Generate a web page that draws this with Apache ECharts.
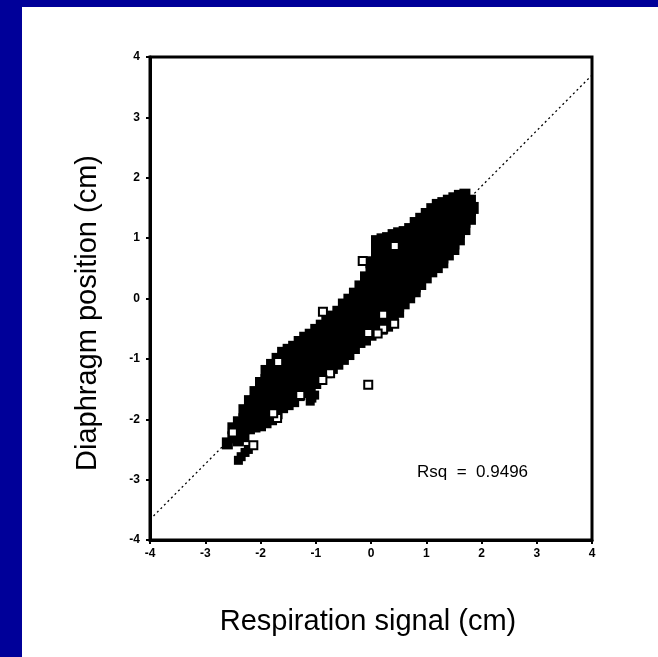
<!DOCTYPE html>
<html>
<head>
<meta charset="utf-8">
<script src="https://cdn.jsdelivr.net/npm/echarts@6/dist/echarts.min.js"></script>
<style>
  html, body { margin: 0; padding: 0; background: #fff; }
  #chart { width: 658px; height: 657px; }
</style>
</head>
<body>
<div id="chart"></div>
<script>
// axis range and ticks
var axisMin = -4;
var axisMax = 4;
var tickStep = 1;

// regression line end points
var fitLine = [[-4, -3.66], [4, 3.7]];

// dense body of the scatter (open squares that overlap into a solid band)
var blobPoints = [
  [-2.6, -2.4],
  [-2.5, -2.15], [-2.5, -2.3],
  [-2.4, -2.05], [-2.4, -2.2], [-2.4, -2.35],
  [-2.3, -1.85], [-2.3, -2.0], [-2.3, -2.15], [-2.3, -2.28],
  [-2.2, -1.7], [-2.2, -1.85], [-2.2, -2.0], [-2.2, -2.15],
  [-2.1, -1.55], [-2.1, -1.7], [-2.1, -1.85], [-2.1, -2.0], [-2.1, -2.12],
  [-2.0, -1.4], [-2.0, -1.55], [-2.0, -1.7], [-2.0, -1.85], [-2.0, -2.0], [-2.0, -2.1],
  [-1.9, -1.2], [-1.9, -1.35], [-1.9, -1.5], [-1.9, -1.65], [-1.9, -1.8], [-1.9, -1.95], [-1.9, -2.05],
  [-1.8, -1.1], [-1.8, -1.25], [-1.8, -1.4], [-1.8, -1.55], [-1.8, -1.7], [-1.8, -1.85], [-1.8, -2.0],
  [-1.7, -1.0], [-1.7, -1.15], [-1.7, -1.3], [-1.7, -1.45], [-1.7, -1.6], [-1.7, -1.75], [-1.7, -1.9],
  [-1.6, -0.9], [-1.6, -1.05], [-1.6, -1.2], [-1.6, -1.35], [-1.6, -1.5], [-1.6, -1.65], [-1.6, -1.8],
  [-1.5, -0.85], [-1.5, -1.0], [-1.5, -1.15], [-1.5, -1.3], [-1.5, -1.45], [-1.5, -1.6], [-1.5, -1.75],
  [-1.4, -0.8], [-1.4, -0.95], [-1.4, -1.1], [-1.4, -1.25], [-1.4, -1.4], [-1.4, -1.55], [-1.4, -1.7],
  [-1.3, -0.72], [-1.3, -0.87], [-1.3, -1.0], [-1.3, -1.15], [-1.3, -1.3], [-1.3, -1.45], [-1.3, -1.6],
  [-1.2, -0.65], [-1.2, -0.8], [-1.2, -0.95], [-1.2, -1.1], [-1.2, -1.25], [-1.2, -1.4], [-1.2, -1.55],
  [-1.1, -0.6], [-1.1, -0.75], [-1.1, -0.9], [-1.1, -1.05], [-1.1, -1.2], [-1.1, -1.35], [-1.1, -1.5],
  [-1.0, -0.52], [-1.0, -0.67], [-1.0, -0.82], [-1.0, -0.97], [-1.0, -1.12], [-1.0, -1.27], [-1.0, -1.4],
  [-0.9, -0.45], [-0.9, -0.6], [-0.9, -0.75], [-0.9, -0.9], [-0.9, -1.05], [-0.9, -1.2], [-0.9, -1.3],
  [-0.8, -0.38], [-0.8, -0.53], [-0.8, -0.68], [-0.8, -0.83], [-0.8, -0.98], [-0.8, -1.13], [-0.8, -1.22],
  [-0.7, -0.3], [-0.7, -0.45], [-0.7, -0.6], [-0.7, -0.75], [-0.7, -0.9], [-0.7, -1.05], [-0.7, -1.15],
  [-0.6, -0.22], [-0.6, -0.37], [-0.6, -0.52], [-0.6, -0.67], [-0.6, -0.82], [-0.6, -0.97], [-0.6, -1.08],
  [-0.5, -0.1], [-0.5, -0.25], [-0.5, -0.4], [-0.5, -0.55], [-0.5, -0.7], [-0.5, -0.85], [-0.5, -1.0],
  [-0.4, -0.02], [-0.4, -0.17], [-0.4, -0.32], [-0.4, -0.47], [-0.4, -0.62], [-0.4, -0.77], [-0.4, -0.92],
  [-0.3, 0.08], [-0.3, -0.07], [-0.3, -0.22], [-0.3, -0.37], [-0.3, -0.52], [-0.3, -0.67], [-0.3, -0.82],
  [-0.2, 0.2], [-0.2, 0.05], [-0.2, -0.1], [-0.2, -0.25], [-0.2, -0.4], [-0.2, -0.55], [-0.2, -0.72],
  [-0.1, 0.35], [-0.1, 0.2], [-0.1, 0.05], [-0.1, -0.1], [-0.1, -0.25], [-0.1, -0.4], [-0.1, -0.55], [-0.1, -0.68],
  [0.0, 0.6], [0.0, 0.45], [0.0, 0.3], [0.0, 0.15], [0.0, 0.0], [0.0, -0.15], [0.0, -0.3], [0.0, -0.45], [0.0, -0.6],
  [0.1, 0.95], [0.1, 0.8], [0.1, 0.65], [0.1, 0.5], [0.1, 0.35], [0.1, 0.2], [0.1, 0.05], [0.1, -0.1], [0.1, -0.25], [0.1, -0.4], [0.1, -0.55],
  [0.2, 0.98], [0.2, 0.83], [0.2, 0.68], [0.2, 0.53], [0.2, 0.38], [0.2, 0.23], [0.2, 0.08], [0.2, -0.07], [0.2, -0.22], [0.2, -0.37], [0.2, -0.5],
  [0.3, 1.0], [0.3, 0.85], [0.3, 0.7], [0.3, 0.55], [0.3, 0.4], [0.3, 0.25], [0.3, 0.1], [0.3, -0.05], [0.3, -0.2], [0.3, -0.35], [0.3, -0.45],
  [0.4, 1.05], [0.4, 0.9], [0.4, 0.75], [0.4, 0.6], [0.4, 0.45], [0.4, 0.3], [0.4, 0.15], [0.4, 0.0], [0.4, -0.15], [0.4, -0.3], [0.4, -0.38],
  [0.5, 1.08], [0.5, 0.93], [0.5, 0.78], [0.5, 0.63], [0.5, 0.48], [0.5, 0.33], [0.5, 0.18], [0.5, 0.03], [0.5, -0.12], [0.5, -0.22],
  [0.6, 1.1], [0.6, 0.95], [0.6, 0.8], [0.6, 0.65], [0.6, 0.5], [0.6, 0.35], [0.6, 0.2], [0.6, 0.05], [0.6, -0.08],
  [0.7, 1.15], [0.7, 1.0], [0.7, 0.85], [0.7, 0.7], [0.7, 0.55], [0.7, 0.4], [0.7, 0.25], [0.7, 0.1], [0.7, 0.02],
  [0.8, 1.25], [0.8, 1.1], [0.8, 0.95], [0.8, 0.8], [0.8, 0.65], [0.8, 0.5], [0.8, 0.35], [0.8, 0.2], [0.8, 0.12],
  [0.9, 1.32], [0.9, 1.17], [0.9, 1.02], [0.9, 0.87], [0.9, 0.72], [0.9, 0.57], [0.9, 0.42], [0.9, 0.24],
  [1.0, 1.4], [1.0, 1.25], [1.0, 1.1], [1.0, 0.95], [1.0, 0.8], [1.0, 0.65], [1.0, 0.5], [1.0, 0.35],
  [1.1, 1.48], [1.1, 1.33], [1.1, 1.18], [1.1, 1.03], [1.1, 0.88], [1.1, 0.73], [1.1, 0.58], [1.1, 0.45],
  [1.2, 1.55], [1.2, 1.4], [1.2, 1.25], [1.2, 1.1], [1.2, 0.95], [1.2, 0.8], [1.2, 0.65], [1.2, 0.52],
  [1.3, 1.58], [1.3, 1.43], [1.3, 1.28], [1.3, 1.13], [1.3, 0.98], [1.3, 0.83], [1.3, 0.68], [1.3, 0.6],
  [1.4, 1.62], [1.4, 1.47], [1.4, 1.32], [1.4, 1.17], [1.4, 1.02], [1.4, 0.87], [1.4, 0.73],
  [1.5, 1.66], [1.5, 1.51], [1.5, 1.36], [1.5, 1.21], [1.5, 1.06], [1.5, 0.91], [1.5, 0.82],
  [1.6, 1.7], [1.6, 1.55], [1.6, 1.4], [1.6, 1.25], [1.6, 1.1], [1.6, 0.98],
  [1.7, 1.72], [1.7, 1.57], [1.7, 1.42], [1.7, 1.27], [1.7, 1.15],
  [1.8, 1.62], [1.8, 1.47], [1.8, 1.32],
  [1.85, 1.5]
];

// small filled clumps apart from the band
var clumpPoints = [
  [-2.4, -2.68], [-2.35, -2.62], [-2.28, -2.55], [-2.22, -2.5],
  [-1.1, -1.7], [-1.07, -1.65], [-1.02, -1.6]
];

// single open squares visible at the edges of the band
var openPoints = [
  [0.43, 0.87], [-0.15, 0.62], [-0.87, -0.22], [-0.05, -1.43],
  [0.22, -0.5], [0.42, -0.42], [0.12, -0.58], [0.22, -0.27],
  [-0.74, -1.24], [-0.88, -1.35], [-1.28, -1.6], [-1.7, -1.98],
  [-1.77, -1.9], [-2.13, -2.43], [-2.5, -2.22], [-1.68, -1.05],
  [-0.05, -0.57]
];

var chart = echarts.init(document.getElementById('chart'));

var fontFamily = '"Liberation Sans", Arial, sans-serif';

chart.setOption({
  animation: false,
  backgroundColor: '#fff',
  grid: {
    left: 150,
    right: 66,
    top: 57,
    bottom: 117,
    show: true,
    borderColor: '#000',
    borderWidth: 3
  },
  xAxis: {
    type: 'value',
    min: axisMin,
    max: axisMax,
    interval: tickStep,
    splitLine: { show: false },
    axisLine: { onZero: false, lineStyle: { color: '#000', width: 3 } },
    axisTick: { length: 4, lineStyle: { color: '#000', width: 2 } },
    axisLabel: {
      color: '#000', fontSize: 12, fontWeight: 'bold', margin: 8,
      fontFamily: fontFamily
    }
  },
  yAxis: {
    type: 'value',
    min: axisMin,
    max: axisMax,
    interval: tickStep,
    splitLine: { show: false },
    axisLine: { onZero: false, lineStyle: { color: '#000', width: 3 } },
    axisTick: { length: 4, lineStyle: { color: '#000', width: 2 } },
    axisLabel: {
      color: '#000', fontSize: 12, fontWeight: 'bold', margin: 10,
      fontFamily: fontFamily
    }
  },
  series: [
    {
      type: 'line',
      data: fitLine,
      symbol: 'none',
      z: 1,
      lineStyle: { color: '#000', width: 1.3, type: [2, 3] }
    },
    {
      type: 'scatter',
      data: blobPoints,
      symbol: 'rect',
      symbolSize: [11, 12],
      z: 2,
      itemStyle: { color: '#000', opacity: 1 }
    },
    {
      type: 'scatter',
      data: clumpPoints,
      symbol: 'rect',
      symbolSize: 9,
      z: 2,
      itemStyle: { color: '#000', opacity: 1 }
    },
    {
      type: 'scatter',
      data: openPoints,
      symbol: 'rect',
      symbolSize: 8,
      z: 3,
      itemStyle: { color: '#fff', borderColor: '#000', borderWidth: 2, opacity: 1 }
    }
  ],
  graphic: [
    { type: 'rect', left: 0, top: 0, shape: { width: 22, height: 657 }, style: { fill: '#000099' }, silent: true },
    { type: 'rect', left: 0, top: 0, shape: { width: 658, height: 7 }, style: { fill: '#000099' }, silent: true },
    {
      type: 'text', x: 88, y: 313, rotation: Math.PI / 2,
      style: {
        text: 'Diaphragm position (cm)', fill: '#000',
        font: '29px ' + fontFamily, align: 'center', verticalAlign: 'middle'
      }
    },
    {
      type: 'text', x: 368, y: 622,
      style: {
        text: 'Respiration signal (cm)', fill: '#000',
        font: '29px ' + fontFamily, align: 'center', verticalAlign: 'middle'
      }
    },
    {
      type: 'text', x: 417, y: 472,
      style: {
        text: 'Rsq  =  0.9496', fill: '#000',
        font: '17px ' + fontFamily, align: 'left', verticalAlign: 'middle'
      }
    }
  ]
});
</script>
</body>
</html>
